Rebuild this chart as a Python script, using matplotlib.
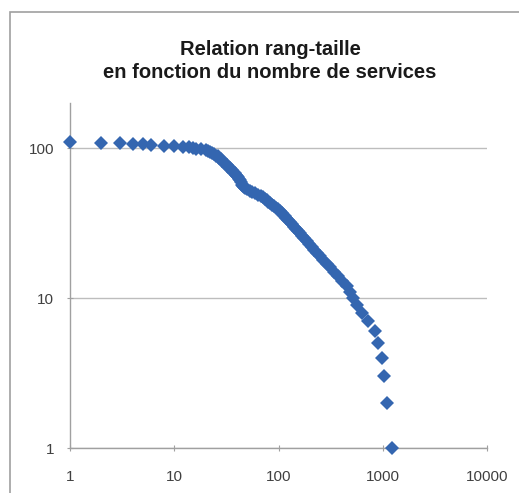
import numpy as np
import matplotlib.pyplot as plt
from matplotlib.patches import Rectangle

plt.rcParams['font.family'] = ['Liberation Sans', 'DejaVu Sans']

# rang (fonction RANG, ex aequo = meme rang) et nombre de services
rang = [1, 2, 3, 4, 5, 6, 8, 10, 12, 14, 15, 16, 18, 20,
        21, 22, 23, 24, 25, 26, 27,
        28, 29, 30, 31, 32, 33, 34, 35, 36,
        37, 38, 39, 40, 41, 42, 43,
        44, 45, 46, 47, 48, 50, 53, 56, 59, 63,
        68, 71, 74, 77, 80, 83, 87, 90, 94, 98,
        103, 107, 110, 115, 119, 124, 129, 134, 140, 146,
        153, 160, 168, 177, 186, 196, 208, 221, 235, 251,
        269, 290, 313, 340, 372, 408, 453, 485, 515, 565,
        626, 724, 840, 904, 973, 1020, 1100, 1214]
taille = [110, 109, 108, 107, 106, 105, 104, 103, 102, 101, 100, 99, 98, 97,
          96, 94, 93, 91, 89, 88, 86,
          84, 82, 80, 79, 77, 75, 74, 72, 71,
          69, 68, 66, 65, 64, 62, 61,
          59, 57, 56, 55, 54, 53, 52, 51, 50, 49,
          48, 47, 46, 45, 44, 43, 42, 41, 40, 39,
          38, 37, 36, 35, 34, 33, 32, 31, 30, 29,
          28, 27, 26, 25, 24, 23, 22, 21, 20, 19,
          18, 17, 16, 15, 14, 13, 12, 11, 10, 9,
          8, 7, 6, 5, 4, 3, 2, 1]

x_ticks = [1, 10, 100, 1000, 10000]
y_ticks = [1, 10, 100]

fig = plt.figure(figsize=(5.19, 4.93), dpi=100)
fig.patches.append(Rectangle((10 / 519, -0.1), 1.2, 1 - 12 / 493 + 0.1,
                             transform=fig.transFigure, fill=False,
                             edgecolor='#a0a0a0', linewidth=1.2))

ax = fig.add_axes([70 / 519, 45 / 493, 417 / 519, 345 / 493])
ax.plot(rang, taille, linestyle='none', marker='D', markersize=7.3,
        color='#3466b0', markeredgewidth=0, clip_on=False, zorder=3)

ax.set_xscale('log')
ax.set_yscale('log')
ax.set_xlim(1, 10000)
ax.set_ylim(1, 200)
ax.set_xticks(x_ticks)
ax.set_xticklabels([str(v) for v in x_ticks])
ax.set_yticks(y_ticks)
ax.set_yticklabels([str(v) for v in y_ticks])
ax.minorticks_off()
ax.tick_params(direction='inout', length=5, width=0.8, color='#a0a0a0',
               labelsize=11, labelcolor='#404040')
ax.tick_params(axis='y', pad=9)
ax.tick_params(axis='x', pad=13.5)

ax.grid(axis='y', color='#bdbdbd', linewidth=1)
for s in ['top', 'right']:
    ax.spines[s].set_visible(False)
for s in ['left', 'bottom']:
    ax.spines[s].set_color('#a0a0a0')
    ax.spines[s].set_linewidth(1)

fig.text(270 / 519, 1 - 61 / 493, 'Relation rang-taille\nen fonction du nombre de services',
         ha='center', va='center', fontsize=14.5, fontweight='bold',
         color='#1a1a1a', linespacing=1.22)

fig.savefig('out.png', dpi=100)
